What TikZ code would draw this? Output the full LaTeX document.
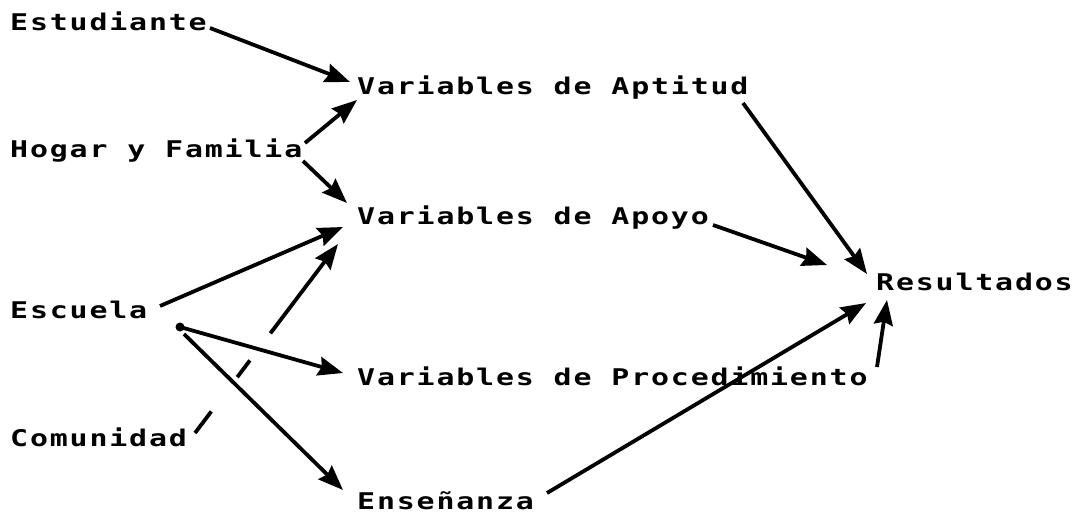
\documentclass[tikz,border=0pt]{standalone}
\usepackage{fontspec}
\newfontfamily\plotfont{DejaVu Sans Mono Bold}[FakeStretch=1.3,LetterSpace=8]
\usetikzlibrary{arrows.meta}
\begin{document}
\begin{tikzpicture}[x=1pt,y=-1pt,
  lbl/.style={anchor=base west,inner sep=0pt,font=\plotfont\fontsize{23pt}{25pt}\selectfont},
  arr/.style={line width=3.8pt,-{Stealth[length=25pt,width=19pt,inset=3pt]}},
  gapline/.style={arr,dash pattern=on 27pt off 43pt on 21pt off 34pt on 400pt}]
\useasboundingbox (0,0) rectangle (1073,513);
\node[lbl] (est) at (10,31) {Estudiante};
\node[lbl] (apt) at (357,95) {Variables de Aptitud};
\node[lbl] (hog) at (10,158) {Hogar y Familia};
\node[lbl] (apo) at (357,225) {Variables de Apoyo};
\node[lbl] (esc) at (10,318) {Escuela};
\node[lbl] (res) at (876,290) {Resultados};
\node[lbl] (proc) at (357,385) {Variables de Procedimiento};
\node[lbl] (com) at (10,446) {Comunidad};
\node[lbl] (ens) at (357,509) {Enseñanza};
\coordinate (escdot) at ([shift={(170,9)}]esc.base west);
\fill (escdot) circle (4.5pt);
% connectors
\draw[arr] ([shift={(200,-3)}]est.base west) -- ([shift={(-7,-13)}]apt.base west);
\draw[arr] ([shift={(295,-15)}]hog.base west) -- ([shift={(0,5)}]apt.base west);
\draw[arr] ([shift={(293,3)}]hog.base west) -- ([shift={(-10,-22)}]apo.base west);
\draw[arr] ([shift={(150,-12)}]esc.base west) -- ([shift={(-14,2)}]apo.base west);
\draw[gapline] ([shift={(185,-13)}]com.base west) -- ([shift={(-19,19)}]apo.base west);
\draw[arr,line cap=round] (escdot) -- ([shift={(-14,-12)}]proc.base west);
\draw[arr] ([shift={(174,16)}]esc.base west) -- ([shift={(-14,-19)}]ens.base west);
\draw[arr] ([shift={(386,8)}]apt.base west) -- ([shift={(-9,-16)}]res.base west);
\draw[arr] ([shift={(356,0)}]apo.base west) -- ([shift={(-49,-25)}]res.base west);
\draw[arr] ([shift={(190,-16)}]ens.base west) -- ([shift={(-10,13)}]res.base west);
\draw[arr] ([shift={(520,-18)}]proc.base west) -- ([shift={(11,10)}]res.base west);
\end{tikzpicture}
\end{document}
